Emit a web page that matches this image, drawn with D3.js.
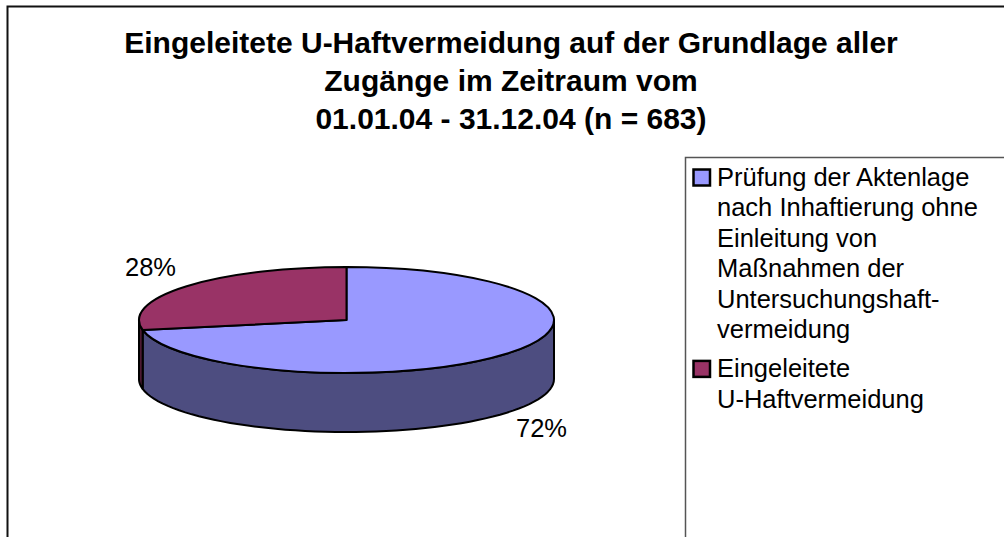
<!DOCTYPE html>
<html>
<head>
<meta charset="utf-8">
<script src="https://cdn.jsdelivr.net/npm/d3@7"></script>
<style>
  html, body { margin: 0; padding: 0; background: #fff; overflow: hidden; }
  text { font-family: "Liberation Sans", Arial, sans-serif; fill: #000; }
</style>
</head>
<body>
<div id="chart"></div>
<script>
// DATA
const categories = ['Prüfung der Aktenlage nach Inhaftierung ohne Einleitung von Maßnahmen der Untersuchungshaftvermeidung', 'Eingeleitete U-Haftvermeidung'];
const values = [72, 28];
const valueLabels = ['72%', '28%'];
const titleLines = ['Eingeleitete U-Haftvermeidung auf der Grundlage aller', 'Zugänge im Zeitraum vom', '01.01.04 - 31.12.04 (n = 683)'];
const legendLines = [
  ['Prüfung der Aktenlage', 'nach Inhaftierung ohne', 'Einleitung von', 'Maßnahmen der', 'Untersuchungshaft-', 'vermeidung'],
  ['Eingeleitete', 'U-Haftvermeidung']
];

// COLORS
const colorsTop = ['#9999FF', '#993366'];
const colorsSide = ['#4D4D80', '#4D1A33'];

// SIZES
const w = 1004, h = 537;
const cx = 346.5, cy = 320, rx = 207.5, ry = 53, depth = 59;

const svg = d3.select('#chart').append('svg').attr('width', w).attr('height', h).style('display', 'block');

// chart frame, cut by the bottom and right of the window
svg.append('path')
  .attr('d', 'M7.5,' + h + 'V6.5H' + w)
  .attr('fill', 'none').attr('stroke', '#111').attr('stroke-width', 2);

// title
svg.append('g').selectAll('text').data(titleLines).enter().append('text')
  .attr('x', 511)
  .attr('y', (d, i) => 52.5 + i * 38.3)
  .attr('text-anchor', 'middle')
  .attr('font-size', 30)
  .attr('font-weight', 'bold')
  .text(d => d);

// pie angles, clockwise from 12 o'clock
const arcs = d3.pie().sort(null)(values);

// map an angle to the ellipse of the top face
function px(a) { return cx + rx * Math.sin(a); }
function py(a) { return cy - ry * Math.cos(a); }

// side wall: only the part of each slice in the front half
const gSide = svg.append('g');
arcs.forEach(function(d, i) {
  const a0 = Math.max(d.startAngle, Math.PI / 2);
  const a1 = Math.min(d.endAngle, Math.PI * 1.5);
  if (a1 <= a0) return;
  const path = d3.path();
  path.moveTo(px(a0), py(a0));
  path.lineTo(px(a0), py(a0) + depth);
  const n = 60;
  d3.range(1, n + 1).forEach(function(k) {
    const a = a0 + (a1 - a0) * k / n;
    path.lineTo(px(a), py(a) + depth);
  });
  path.lineTo(px(a1), py(a1));
  d3.range(1, n + 1).forEach(function(k) {
    const a = a1 - (a1 - a0) * k / n;
    path.lineTo(px(a), py(a));
  });
  path.closePath();
  gSide.append('path').attr('d', path.toString())
    .attr('fill', colorsSide[i])
    .attr('stroke', '#000').attr('stroke-width', 2).attr('stroke-linejoin', 'round');
});

// top face: d3.arc squashed to an ellipse
const arcGen = d3.arc().innerRadius(0).outerRadius(rx);
svg.append('g')
  .attr('transform', 'translate(' + cx + ',' + cy + ') scale(1,' + (ry / rx) + ')')
  .selectAll('path').data(arcs).enter().append('path')
  .attr('d', arcGen)
  .attr('fill', (d, i) => colorsTop[i])
  .attr('stroke', '#000').attr('stroke-width', 2)
  .attr('vector-effect', 'non-scaling-stroke')
  .attr('stroke-linejoin', 'round');

// value labels
const labelPos = [[541.5, 437], [150.5, 276]];
svg.append('g').selectAll('text').data(valueLabels).enter().append('text')
  .attr('x', (d, i) => labelPos[i][0])
  .attr('y', (d, i) => labelPos[i][1])
  .attr('text-anchor', 'middle')
  .attr('font-size', 25.5)
  .text(d => d);

// legend box, open at the right and bottom
svg.append('path')
  .attr('d', 'M685.5,' + h + 'V157.5H' + w)
  .attr('fill', 'none').attr('stroke', '#555').attr('stroke-width', 1.5);

const lineH = 30.4;
let yLine = 186;
legendLines.forEach(function(lines, i) {
  svg.append('rect')
    .attr('x', 693.5).attr('y', yLine - 16.5)
    .attr('width', 16.5).attr('height', 16)
    .attr('fill', colorsTop[i])
    .attr('stroke', '#000').attr('stroke-width', 2.5);
  lines.forEach(function(line, j) {
    svg.append('text')
      .attr('x', 717).attr('y', yLine + j * lineH)
      .attr('font-size', 25.5)
      .text(line);
  });
  yLine += lines.length * lineH + 9;
});
</script>
</body>
</html>
